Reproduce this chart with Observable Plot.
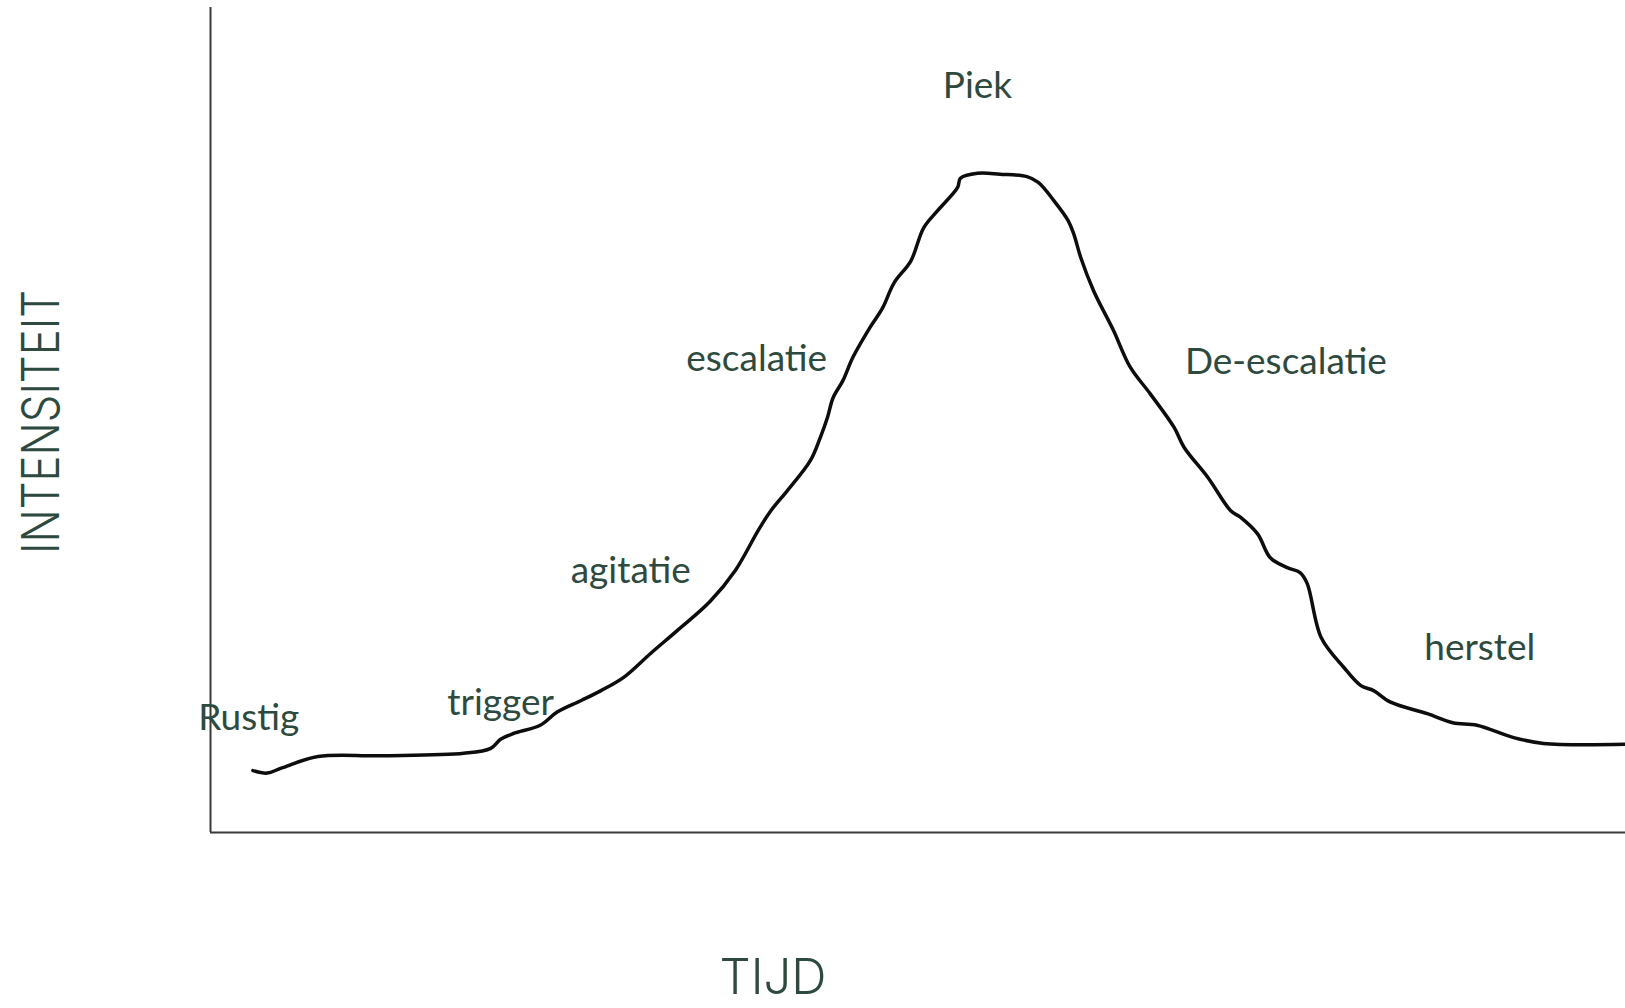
<!DOCTYPE html>
<html>
<head>
<meta charset="utf-8">
<script src="https://cdn.jsdelivr.net/npm/d3@7"></script>
<script src="https://cdn.jsdelivr.net/npm/@observablehq/plot@0.6"></script>
<style>
  html, body { margin: 0; padding: 0; background: #ffffff; }
  #chart svg { display: block; }
</style>
</head>
<body>
<div id="chart"></div>
<script>
// Time (0–100) and intensity (0–100) of the hand-drawn escalation curve
const time = [3.0, 4.0, 5.0, 7.6, 12.0, 17.9, 19.8, 20.5, 21.4, 23.3, 24.5, 26.2, 27.6, 29.2, 31.1, 33.0, 35.3, 37.1, 38.7, 39.6, 40.8, 42.4, 43.1, 43.6, 44.0, 44.7, 45.4, 46.6, 47.5, 48.3, 49.5, 50.4, 51.4, 52.8, 53.0, 54.2, 55.8, 57.7, 58.5, 59.6, 60.6, 61.0, 61.5, 62.4, 63.8, 65.0, 66.4, 68.1, 68.8, 70.5, 72.1, 72.8, 74.0, 74.9, 76.1, 77.0, 77.5, 78.5, 80.1, 81.3, 82.2, 83.4, 86.0, 87.8, 89.5, 92.1, 94.2, 100];
const intensity = [7.5, 7.2, 7.8, 9.2, 9.3, 9.6, 10.2, 11.3, 12.0, 13.0, 14.6, 16.0, 17.2, 18.8, 21.7, 24.5, 28.0, 31.8, 36.6, 39.0, 41.5, 45.1, 47.9, 50.3, 52.7, 54.8, 57.6, 61.2, 63.6, 66.6, 69.3, 73.3, 75.4, 78.2, 79.3, 79.9, 79.8, 79.5, 78.8, 76.6, 74.2, 72.6, 69.7, 65.7, 60.9, 56.4, 53.2, 49.1, 46.7, 43.0, 39.0, 38.2, 36.2, 33.3, 32.1, 31.5, 30.2, 23.6, 20.0, 17.8, 17.2, 15.8, 14.4, 13.3, 13.0, 11.5, 10.8, 10.7];

// Phase labels and their (time, intensity) placement
const phaseNames = ["Rustig", "trigger", "agitatie", "escalatie", "Piek", "De-escalatie", "herstel"];
const phaseTime = [2.7, 20.5, 29.7, 38.6, 54.2, 76.0, 89.7];
const phaseIntensity = [12.4, 14.2, 30.3, 56.0, 89.0, 55.6, 20.9];

const xTitle = "TIJD";
const yTitle = "INTENSITEIT";

const curve = time.map((t, i) => ({t, v: intensity[i]}));
const phases = phaseNames.map((name, i) => ({name, t: phaseTime[i], v: phaseIntensity[i]}));

const textColor = "#2e4a3f";
const labelFont = "Lato, 'Open Sans', 'Noto Sans', sans-serif";
const titleFont = "Inter, Lato, 'DejaVu Sans', sans-serif";

const chart = Plot.plot({
  width: 1625,
  height: 1008,
  marginLeft: 210,
  marginRight: 0,
  marginTop: 7,
  marginBottom: 176,
  x: {domain: [0, 100], axis: null},
  y: {domain: [0, 100], axis: null},
  style: {background: "#ffffff"},
  marks: [
    Plot.ruleX([0], {stroke: "#3a3a3a", strokeWidth: 2}),
    Plot.ruleY([0], {stroke: "#3a3a3a", strokeWidth: 2}),
    Plot.line(curve, {x: "t", y: "v", stroke: "#0d0d0d", strokeWidth: 3.5, curve: "catmull-rom"}),
    Plot.text(phases, {
      x: "t", y: "v", text: "name",
      textAnchor: "middle", lineAnchor: "bottom",
      fill: textColor, fontSize: 37, fontFamily: labelFont
    }),
    Plot.text([xTitle], {
      frameAnchor: "bottom", dx: -145, dy: 146, textAnchor: "middle", lineAnchor: "middle",
      text: d => d, fill: textColor, fontSize: 49, fontWeight: 300, fontFamily: titleFont
    }),
    Plot.text([yTitle], {
      frameAnchor: "left", dx: -168, dy: 2, rotate: -90, textAnchor: "middle", lineAnchor: "middle",
      text: d => d, fill: textColor, fontSize: 52, fontWeight: 300, fontFamily: titleFont
    })
  ]
});

document.getElementById("chart").appendChild(chart);

// condense the vertical title to the reference length
d3.select(chart).selectAll("text").filter(function() { return this.textContent === yTitle; })
  .attr("textLength", 264).attr("lengthAdjust", "spacingAndGlyphs");
</script>
</body>
</html>
